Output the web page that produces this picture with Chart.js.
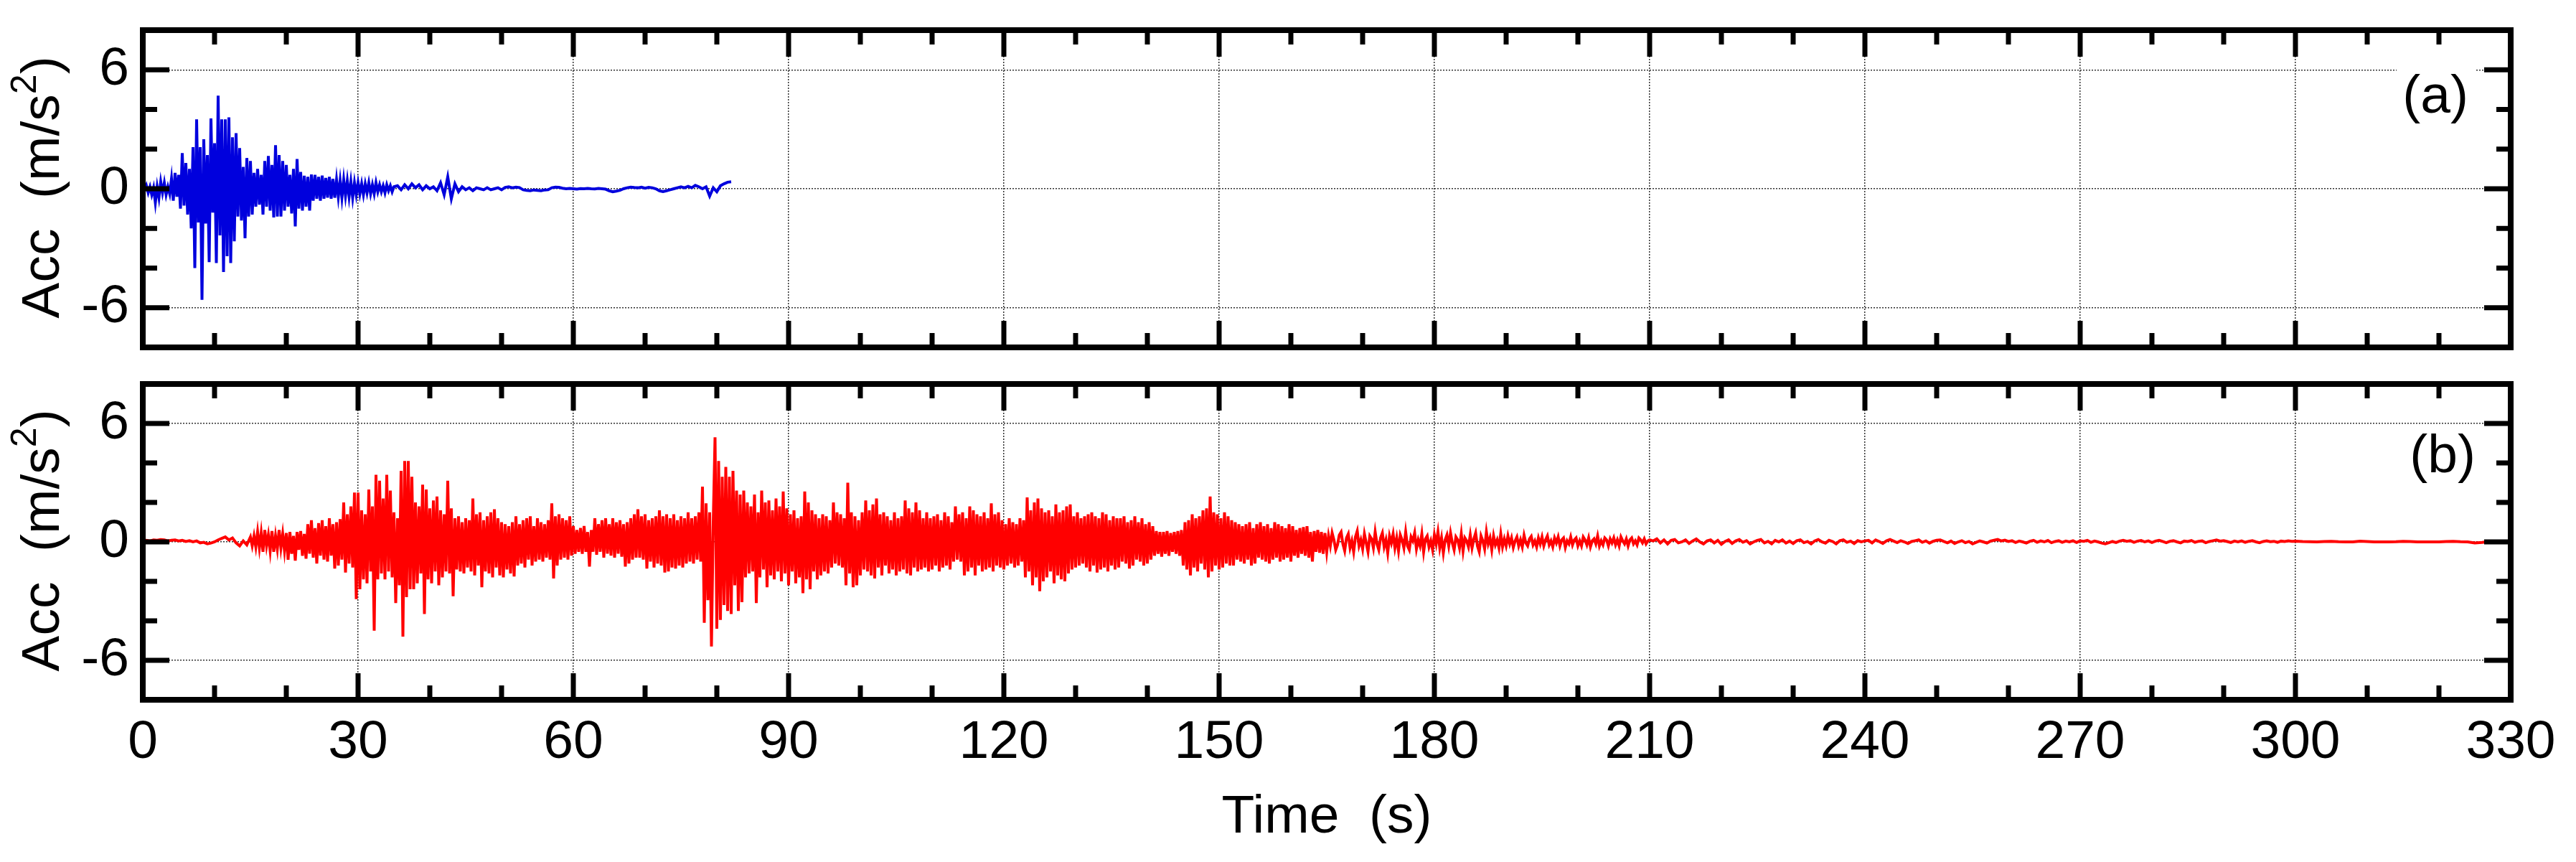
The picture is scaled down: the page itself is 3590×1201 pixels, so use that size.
<!DOCTYPE html>
<html>
<head>
<meta charset="utf-8">
<script src="https://cdn.jsdelivr.net/npm/chart.js@4.4.1/dist/chart.umd.min.js"></script>
<style>
  body { margin: 0; background: #fff; width: 3590px; height: 1201px; overflow: hidden; position: relative; }
  canvas { position: absolute; left: 0; }
  #chartA { top: 0; }
  #chartB { top: 500px; }
</style>
</head>
<body>
<canvas id="chartA" width="3590" height="500"></canvas>
<canvas id="chartB" width="3590" height="701"></canvas>
<script>
// axis ticks
const xMajorTicks = [0, 30, 60, 90, 120, 150, 180, 210, 240, 270, 300, 330];
const xMinorTicks = [10, 20, 40, 50, 70, 80, 100, 110, 130, 140, 160, 170, 190, 200, 220, 230, 250, 260, 280, 290, 310, 320];
const yMajorTicks = [-6, 0, 6];
const yMinorTicks = [-4, -2, 2, 4];

// (a) blue record, 0-35 s every 0.25 s
const accA1 = [
  0.2, -0.1, 0.15, -0.2, 0.1, -0.3, 0.05, -0.7, 0.1, -0.45, 0.35, -0.2, 0.3, -0.3, 0.1, -0.25, 0.5, -0.6, 0.8, -0.4,
  0.7, -1.0, 1.8, -0.85, 1.3, -1.3, 1.0, -2.0, 2.1, -4.0, 3.5, -1.7, 2.1, -5.6, 2.5, -1.75, 1.7, -3.7, 3.55, -1.2,
  2.3, -3.75, 4.7, -2.35, 3.5, -4.2, 3.5, -3.4, 3.6, -3.75, 2.6, -2.65, 2.8, -1.4, 2.05, -1.6, 1.1, -2.5, 1.55, -1.4,
  1.4, -1.3, 0.8, -0.9, 1.0, -0.8, 0.7, -1.3, 1.4, -0.9, 1.65, -1.1, 1.2, -1.45, 2.2, -1.4, 1.7, -1.4, 1.4, -1.1,
  1.2, -0.9, 0.7, -1.25, 1.0, -1.9, 1.5, -1.0, 0.85, -1.1, 0.66, -0.9, 0.6, -1.1, 0.72, -0.6, 0.7, -0.5, 0.6, -0.6,
  0.66, -0.5, 0.55, -0.45, 0.6, -0.5, 0.5, -0.45, 0.45, -0.4, 0.4, -0.45, 0.45, -0.35, 0.4, -0.4, 0.35, -0.45, 0.3, -0.3,
  0.3, -0.25, 0.25, -0.3, 0.25, -0.2, 0.3, -0.25, 0.2, -0.25, 0.3, -0.15, 0.2, -0.15, 0.15, -0.2, 0.2, -0.1, 0.15, -0.15,
  0.1
];
// (a) blue record, 35.5-82 s every 0.5 s
const accA2 = [
  0.15, -0.05, 0.2, 0.0, 0.25, 0.05, 0.2, -0.05, 0.15, 0.0,
  0.1, -0.1, 0.3, -0.3, 0.6, -0.5, 0.25, -0.15,
  0.1, -0.05, 0.05, -0.1, 0.05, 0.0, -0.05, 0.05, -0.05, 0.0, 0.05, -0.05,
  0.07, 0.1, 0.05, 0.08, 0.06,
  -0.05, -0.08, -0.1, -0.06, -0.08, -0.1, -0.06, -0.05,
  0.05, 0.08, 0.07, 0.03,
  0.0, 0.02, 0.0, -0.02, 0.01, 0.0, 0.02, 0.0, -0.01, 0.02, 0.0, -0.02,
  -0.1, -0.15, -0.12, -0.08, 0.0,
  0.05, 0.08, 0.06, 0.05, 0.08, 0.03, 0.07, 0.05, 0.0,
  -0.1, -0.14, -0.1, -0.05,
  0.0, 0.05, 0.1, 0.05, 0.12, 0.05, 0.17, 0.1, 0.0, 0.1,
  -0.37, 0.05, -0.15, 0.15, 0.25, 0.33, 0.35
];

// (b) red record, 0-14.5 s every 0.5 s
const accB1 = [
  0.05, 0.08, 0.05, 0.1, 0.08, 0.12, 0.1, 0.05, 0.08, 0.1,
  0.05, 0.08, 0.02, 0.06, 0.0, 0.05, -0.05, -0.02, -0.1, -0.06,
  0.0, 0.1, 0.18, 0.25, 0.1, 0.2, -0.05, -0.2, 0.05, -0.15
];
// (b) red record, 15-165 s every 0.25 s
const accB2 = [
  0.25, -0.2, 0.3, -0.25, 0.5, -0.3, 0.45, -0.5, 0.6, -0.2, 0.35, -0.45, 0.55, -0.5, 0.3, -0.35, 0.6, -0.3, 0.4, -0.45,
  0.45, -0.9, 0.5, -0.6, 0.3, -0.95, 0.5, -0.4, 0.55, -0.7, 0.4, -0.85, 0.9, -0.6, 1.1, -0.8, 0.7, -1.1, 0.95, -0.7,
  1.1, -0.9, 0.8, -1.0, 1.2, -0.7, 0.9, -1.35, 1.0, -1.2, 1.15, -0.9, 2.0, -1.55, 1.4, -1.1, 1.8, -1.3, 2.5, -2.9,
  2.5, -2.4, 1.6, -1.9, 1.4, -2.1, 2.65, -1.5, 1.8, -4.5, 3.4, -1.9, 3.1, -1.6, 2.2, -1.9, 3.4, -1.5, 2.6, -1.8,
  1.5, -3.1, 1.2, -2.2, 3.6, -4.8, 4.1, -2.8, 4.1, -2.4, 3.3, -2.4, 2.0, -2.1, 1.8, -1.6, 2.9, -3.65, 2.65, -1.9,
  1.7, -2.1, 2.1, -1.5, 2.3, -2.2, 1.6, -1.8, 1.4, -1.5, 3.1, -1.6, 1.7, -2.75, 1.2, -1.4, 1.3, -1.5, 1.0, -1.6,
  1.2, -1.3, 1.1, -1.5, 2.2, -1.7, 1.4, -1.2, 1.5, -2.3, 1.1, -1.5, 1.3, -1.6, 1.5, -1.8, 1.65, -1.3, 1.2, -1.7,
  1.0, -1.8, 0.9, -1.4, 0.8, -1.6, 1.0, -1.75, 1.3, -1.2, 0.9, -1.1, 1.1, -1.3, 1.2, -0.9, 1.3, -1.2, 0.8, -1.0,
  1.2, -0.9, 1.0, -1.0, 0.9, -0.8, 1.1, -0.9, 1.95, -1.85, 1.3, -1.2, 1.4, -0.9, 1.2, -0.8, 1.1, -0.9, 1.3, -0.7,
  0.8, -0.6, 0.6, -0.5, 0.7, -0.6, 0.8, -0.5, 0.5, -1.25, 0.6, -0.5, 1.2, -0.65, 0.9, -0.5, 1.1, -0.8, 1.2, -0.6,
  0.9, -0.7, 1.2, -0.8, 1.0, -0.6, 1.1, -0.75, 0.9, -1.25, 1.0, -1.1, 1.2, -0.9, 1.4, -0.8, 1.65, -0.8, 1.3, -0.9,
  1.4, -1.35, 1.1, -1.0, 1.2, -1.3, 1.3, -1.1, 1.6, -1.2, 1.3, -1.55, 1.4, -1.5, 1.2, -1.3, 1.4, -1.35, 1.1, -1.2,
  1.3, -1.3, 1.2, -1.1, 1.5, -1.0, 1.2, -1.1, 1.3, -0.9, 1.5, -1.0, 2.8, -4.1, 1.95, -2.95, 1.5, -5.3, 1.0, 5.3,
  -4.4, 4.1, -3.95, 3.3, -3.2, 3.8, -3.5, 3.3, -3.65, 3.6, -2.2, 2.6, -3.5, 2.4, -3.05, 2.6, -1.8, 2.0, -1.6, 1.8,
  -1.5, 2.4, -3.1, 1.5, -1.8, 2.6, -1.4, 2.0, -2.3, 2.1, -1.7, 1.6, -1.9, 2.2, -1.5, 1.8, -2.0, 2.55, -1.6, 1.7,
  -2.2, 1.4, -1.5, 1.6, -2.1, 1.2, -1.8, 1.3, -2.6, 2.55, -1.9, 2.0, -2.4, 1.6, -1.5, 1.4, -1.9, 1.2, -1.7, 1.4,
  -1.5, 1.3, -1.6, 1.1, -1.3, 2.0, -1.1, 1.5, -1.2, 1.4, -1.3, 1.2, -2.2, 3.0, -1.6, 1.5, -2.3, 1.3, -2.2, 1.1,
  -1.7, 1.5, -1.4, 2.1, -1.5, 1.6, -1.7, 1.9, -1.85, 2.2, -1.3, 1.4, -1.7, 1.5, -1.2, 1.3, -1.6, 1.1, -1.4, 1.5,
  -1.7, 1.2, -1.5, 1.3, -1.4, 2.1, -1.6, 1.7, -1.7, 1.5, -1.3, 2.0, -1.5, 1.6, -1.4, 1.2, -1.3, 1.5, -1.5, 1.2,
  -1.4, 1.3, -1.2, 1.4, -1.5, 1.1, -1.3, 1.5, -1.2, 1.3, -1.4, 1.0, -1.0, 1.8, -0.9, 1.4, -1.0, 1.5, -1.7, 1.2,
  -1.5, 1.8, -1.3, 1.6, -1.7, 1.4, -1.2, 1.3, -1.5, 1.5, -1.4, 1.2, -1.3, 1.95, -1.5, 1.4, -1.2, 1.5, -1.3, 1.1,
  -1.4, 0.9, -1.2, 1.2, -1.1, 1.0, -1.3, 0.9, -1.2, 1.2, -1.0, 1.1, -1.8, 2.25, -1.5, 1.6, -2.2, 2.0, -1.8, 2.2,
  -2.5, 1.7, -2.0, 1.5, -1.8, 1.6, -1.5, 1.3, -2.1, 1.9, -1.7, 1.5, -1.9, 1.6, -2.0, 1.8, -1.6, 1.9, -1.4, 1.3,
  -1.3, 1.5, -1.2, 1.2, -1.1, 1.3, -1.3, 1.4, -1.5, 1.5, -1.2, 1.3, -1.55, 1.2, -1.4, 1.5, -1.3, 1.4, -1.5, 1.1,
  -1.2, 1.3, -1.4, 1.2, -1.3, 1.2, -1.0, 1.3, -1.1, 1.0, -1.35, 1.1, -1.2, 1.3, -0.9, 1.0, -1.0, 1.2, -1.2, 0.9,
  -1.1, 1.0, -0.9, 0.8, -0.7, 0.55, -0.6, 0.5, -0.75, 0.5, -0.6, 0.55, -0.7, 0.45, -0.5, 0.5, -0.6, 0.55, -0.7, 0.6,
  -1.2, 1.0, -1.4, 1.1, -1.7, 1.4, -1.3, 1.2, -1.5, 1.3, -1.1, 1.6, -1.4, 1.7, -1.8, 2.3, -1.5, 1.5, -1.2, 1.4,
  -1.4, 1.2, -1.3, 1.5, -1.1, 1.3, -1.2, 1.1, -1.2, 1.0, -0.9, 0.9, -1.0, 0.8, -1.1, 0.9, -0.9, 1.0, -1.2, 0.7,
  -1.1, 0.9, -0.8, 1.0, -0.9, 0.8, -1.0, 0.9, -1.1, 0.7, -0.9, 1.0, -0.8, 0.9, -1.0, 0.8, -0.9, 0.7, -0.8, 0.9,
  -1.0, 0.8, -0.7, 0.6, -0.8, 0.7, -0.6, 0.75, -0.7, 0.8, -0.8, 0.5, -1.0, 0.55, -0.5, 0.6, -0.55, 0.5, -0.6, 0.45,
  -0.5
];
// (b) red record, 165.25-210 s every 0.25 s
const accB3 = [
  0.3, -0.2, 0.45, 0.1, -0.4, -0.15, 0.35, 0.5, -0.1, -0.45, 0.2, 0.4, -0.3, 0.05, -0.5, 0.25, 0.55, -0.2, 0.1, -0.35,
  0.4, -0.05, -0.5, 0.3, 0.15, -0.3, 0.5, -0.1, -0.4, 0.2, 0.45, -0.25, 0.1, -0.55, 0.3, -0.05, 0.4, -0.3, 0.2, -0.45,
  0.35, 0.1, -0.3, 0.5, -0.2, -0.4, 0.25, 0.05, 0.45, -0.35, 0.1, -0.2, 0.4, -0.5, 0.15, 0.3, -0.25, 0.05, -0.4, 0.35,
  -0.1, 0.5, -0.3, 0.2, -0.55, 0.1, 0.35, -0.2, 0.45, -0.05, -0.4, 0.25, 0.1, -0.3, 0.4, -0.45, 0.2, 0.05, -0.25, 0.35,
  -0.3, 0.15, 0.45, -0.2, -0.5, 0.3, 0.05, -0.35, 0.5, -0.1, 0.2, -0.4, 0.3, -0.15, 0.1, -0.3, 0.4, -0.25, 0.15, -0.2,
  0.3, -0.1, 0.2, -0.28, 0.05, 0.25, -0.2, 0.1, -0.25, 0.33, -0.05, -0.2, 0.15, 0.28, -0.15, 0.05, -0.25, 0.2, -0.1, 0.25,
  -0.2, 0.1, 0.3, -0.15, 0.05, -0.25, 0.2, -0.05, 0.25, -0.2, 0.1, 0.2, -0.28, 0.05, -0.1, 0.25, -0.15, 0.1, 0.2, -0.2,
  0.05, -0.2, 0.25, 0.1, -0.15, 0.2, -0.25, 0.05, 0.15, -0.1, 0.3, -0.2, 0.05, -0.15, 0.2, 0.1, -0.2, 0.15, -0.05, 0.2,
  -0.15, 0.1, -0.2, 0.25, 0.05, -0.1, 0.15, -0.2, 0.1, 0.2, -0.1, 0.05, -0.15, 0.2, 0.1, -0.05, 0.15, -0.1, 0.05, 0.1
];
// (b) red record, 210.5-300 s every 0.5 s
const accB4 = [
  0.05, 0.15, -0.05, 0.1, -0.1, 0.08, 0.12, -0.05, 0.0, 0.1, -0.08, 0.05, 0.15, 0.0, -0.1, 0.05, 0.1, -0.05, 0.08, -0.12,
  0.02, 0.1, -0.08, 0.05, 0.12, -0.02, 0.06, -0.1, 0.0, 0.08, 0.12, -0.05, 0.03, -0.1, 0.08, 0.0, 0.1, -0.06, 0.04, -0.08,
  0.06, 0.1, -0.04, 0.02, -0.1, 0.05, 0.12, 0.0, -0.06, 0.08, 0.02, -0.1, 0.06, 0.1, -0.02, 0.04, -0.08, 0.06, 0.0, 0.05,
  0.08, -0.05, 0.1, 0.02, -0.08, 0.05, 0.12, 0.04, -0.04, 0.06, 0.0, -0.08, 0.02, 0.06, 0.1, -0.02, 0.05, -0.06, 0.03, 0.08,
  0.1, 0.02, -0.05, 0.04, -0.08, 0.0, 0.06, -0.04, 0.02, -0.1, -0.02, 0.05, 0.0, -0.06, 0.04, 0.08, 0.12, 0.05, 0.09, 0.02,
  0.06, -0.03, 0.04, 0.0, -0.06, 0.03, 0.08, -0.02, 0.05, 0.0, 0.07, -0.04, 0.02, 0.06, -0.02, 0.04, 0.0, 0.06, -0.03, 0.05,
  0.03, 0.08, -0.02, 0.04, 0.0, -0.06, -0.1, -0.04, 0.02, -0.03, 0.04, 0.08, 0.03, 0.06, -0.02, 0.04, 0.07, 0.0, 0.05, -0.03,
  0.04, 0.08, 0.02, -0.04, 0.03, 0.06, 0.0, -0.05, 0.04, 0.02, 0.07, -0.02, 0.03, 0.05, -0.04, 0.02, 0.06, 0.1, 0.04, 0.06,
  0.02, -0.03, 0.04, 0.0, 0.05, -0.02, 0.03, 0.06, 0.0, -0.04, 0.02, 0.05, 0.01, 0.03, -0.02, 0.04, 0.02, 0.05, 0.03, 0.04
];
// (b) red record, 301-330 s every 1 s
const accB5 = [
  0.02, 0.01, 0.0, 0.02, 0.03, 0.01, 0.0, 0.0, 0.04, 0.02, 0.0, 0.0, 0.0, 0.01, 0.03,
  0.02, 0.0, 0.0, 0.0, 0.0, 0.02, 0.03, 0.01, 0.0, -0.05, -0.03, 0.02, 0.04, 0.01, 0.0
];

const FONT = "'Liberation Sans', Arial, sans-serif";
Chart.defaults.font.family = FONT;
Chart.defaults.color = '#000';

// samples are equally spaced inside each block
function toPoints(t0, dt, values) {
  return values.map((v, i) => ({ x: Math.round((t0 + i * dt) * 100) / 100, y: v }));
}

const seriesA = [].concat(toPoints(0, 0.25, accA1), toPoints(35.5, 0.5, accA2));
const seriesB = [].concat(toPoints(0, 0.5, accB1), toPoints(15, 0.25, accB2),
                          toPoints(165.25, 0.25, accB3), toPoints(210.5, 0.5, accB4),
                          toPoints(301, 1, accB5));

// rotated y title with a real superscript 2
function drawYTitle(ctx, a) {
  const big = '75px ' + FONT, small = '50px ' + FONT;
  const parts = [['Acc  (m/s', big, 0], ['2', small, -32], [')', big, 0]];
  let total = 0;
  parts.forEach(p => { ctx.font = p[1]; total += ctx.measureText(p[0]).width; });
  ctx.save();
  ctx.translate(82, (a.top + a.bottom) / 2 - 2);
  ctx.rotate(-Math.PI / 2);
  ctx.textAlign = 'left';
  ctx.textBaseline = 'alphabetic';
  ctx.fillStyle = '#000';
  let x = -total / 2;
  parts.forEach(p => {
    ctx.font = p[1];
    ctx.fillText(p[0], x, p[2]);
    x += ctx.measureText(p[0]).width;
  });
  ctx.restore();
}

// box frame, inward ticks on all sides and the panel letter
const framePlugin = {
  id: 'frame',
  afterDatasetsDraw(chart, args, opts) {
    const ctx = chart.ctx;
    const a = chart.chartArea;
    const xs = chart.scales.x;
    const ys = chart.scales.y;
    ctx.save();

    if (opts.backing) {
      ctx.fillStyle = '#fff';
      ctx.fillRect(a.right - 159, a.top + 48, 110, 93);
    }
    ctx.fillStyle = '#000';
    ctx.font = '75px ' + FONT;
    ctx.textAlign = 'right';
    ctx.textBaseline = 'alphabetic';
    ctx.fillText(opts.label, a.right - opts.labelRight, a.top + opts.labelBase);

    ctx.strokeStyle = '#000';
    ctx.lineCap = 'butt';
    ctx.lineWidth = 7;
    const seg = (x1, y1, x2, y2) => { ctx.beginPath(); ctx.moveTo(x1, y1); ctx.lineTo(x2, y2); ctx.stroke(); };
    const xTick = (v, len) => {
      const p = xs.getPixelForValue(v);
      seg(p, a.top, p, a.top + len);
      seg(p, a.bottom, p, a.bottom - len);
    };
    const yTick = (v, len) => {
      const p = ys.getPixelForValue(v);
      seg(a.left, p, a.left + len, p);
      seg(a.right, p, a.right - len, p);
    };
    xMajorTicks.forEach(v => xTick(v, 37));
    xMinorTicks.forEach(v => xTick(v, 20));
    yMajorTicks.forEach(v => yTick(v, 37));
    yMinorTicks.forEach(v => yTick(v, 20));

    ctx.lineWidth = 8;
    ctx.strokeRect(a.left, a.top, a.right - a.left, a.bottom - a.top);
    ctx.restore();

    drawYTitle(ctx, a);
  }
};

function makePanel(id, points, color, withXLabels, frameOpts, pad) {
  return new Chart(document.getElementById(id), {
    type: 'line',
    data: {
      datasets: [{
        data: points,
        borderColor: color,
        borderWidth: 4,
        pointRadius: 0,
        tension: 0,
        fill: false
      }]
    },
    options: {
      responsive: false,
      animation: false,
      events: [],
      parsing: false,
      layout: { padding: pad },
      plugins: {
        legend: { display: false },
        tooltip: { enabled: false },
        frame: frameOpts
      },
      scales: {
        x: {
          type: 'linear',
          min: 0,
          max: 330,
          grid: { color: '#333', lineWidth: 1.5, drawTicks: false },
          border: { display: false, dash: [2, 2] },
          ticks: {
            display: withXLabels,
            stepSize: 30,
            autoSkip: false,
            maxRotation: 0,
            padding: 15,
            font: { size: 75 }
          },
          title: {
            display: withXLabels,
            text: 'Time  (s)',
            font: { size: 75 },
            padding: { top: 0, bottom: 17 }
          },
          afterFit(scale) {
            scale.height = withXLabels ? 226 : 0;
            scale.paddingLeft = 0;
            scale.paddingRight = 0;
          }
        },
        y: {
          min: -8,
          max: 8,
          grid: { color: '#333', lineWidth: 1.5, drawTicks: false },
          border: { display: false, dash: [2, 2] },
          ticks: { padding: 19, font: { size: 75 } },
          afterBuildTicks(scale) { scale.ticks = yMajorTicks.map(v => ({ value: v })); },
          afterFit(scale) {
            scale.width = 199;
            scale.paddingTop = 0;
            scale.paddingBottom = 0;
          }
        }
      }
    },
    plugins: [framePlugin]
  });
}

makePanel('chartA', seriesA, '#0000dd', false,
  { label: '(a)', labelRight: 59, labelBase: 115, backing: true },
  { left: 0, top: 42, right: 91, bottom: 16 });
makePanel('chartB', seriesB, '#ff0000', true,
  { label: '(b)', labelRight: 49, labelBase: 123, backing: false },
  { left: 0, top: 35, right: 91, bottom: 0 });
</script>
</body>
</html>
